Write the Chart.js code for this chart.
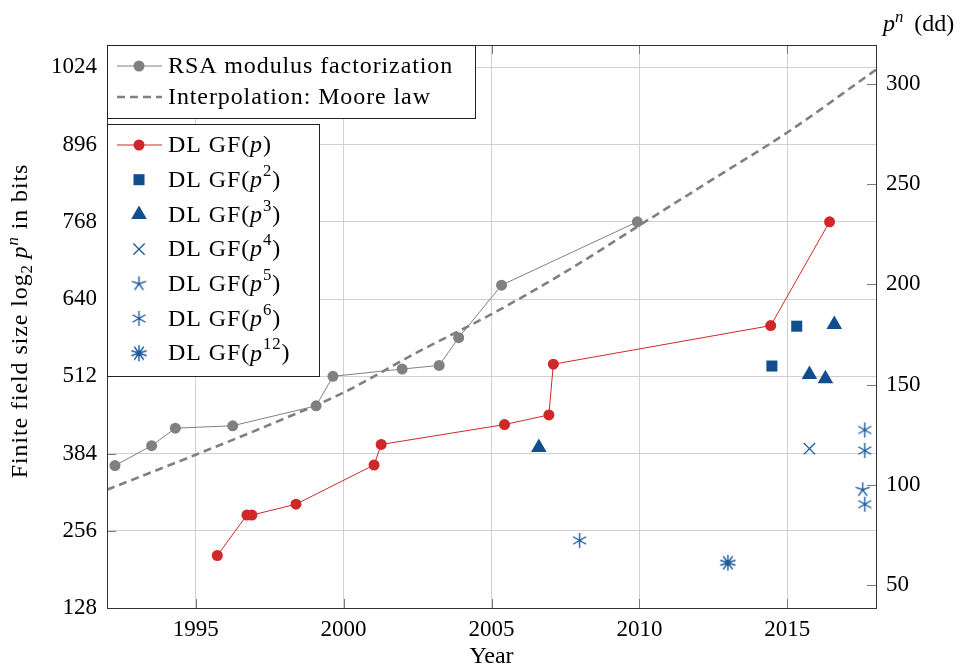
<!DOCTYPE html>
<html>
<head>
<meta charset="utf-8">
<script src="https://cdn.jsdelivr.net/npm/chart.js@4.4.0/dist/chart.umd.min.js"></script>
<style>
html,body{margin:0;padding:0;background:#fff}
</style>
</head>
<body>
<canvas id="fieldChart" width="963" height="666"></canvas>
<script>
// values (year, size in bits)
const rsaYears = [1992.27, 1993.51, 1994.31, 1996.25, 1999.07, 1999.64, 2001.98, 2003.23, 2003.89, 2005.34, 2009.93];
const rsaBits  = [364, 397, 426, 430, 463, 512, 524, 530, 576, 663, 768];

const mooreYears = [1992, 1995, 1998, 2000, 2002.5, 2005, 2007.5, 2010, 2012.5, 2015, 2018];
const mooreBits  = [324, 382, 442, 485, 552, 615, 685, 762, 839, 916, 1020];

const dlpYears = [1995.73, 1996.73, 1996.9, 1998.39, 2001.03, 2001.27, 2005.44, 2006.94, 2007.09, 2014.44, 2016.43];
const dlpBits  = [215, 282, 282, 300, 365, 399, 432, 448, 532, 596, 768];

const dlp2Years = [2014.48, 2015.32];
const dlp2Bits  = [529, 595];
const dlp3Years = [2006.6, 2015.75, 2016.29, 2016.59];
const dlp3Bits  = [394, 515, 508, 598];
const dlp4Years = [2015.75];
const dlp4Bits  = [392];
const dlp5Years = [2017.55];
const dlp5Bits  = [324];
const dlp6Years = [2007.98, 2017.62, 2017.62, 2017.62];
const dlp6Bits  = [240, 423, 389, 300];
const dlp12Years = [2012.99];
const dlp12Bits  = [203];

const xTicks  = [1995, 2000, 2005, 2010, 2015];
const yTicks  = [128, 256, 384, 512, 640, 768, 896, 1024];
const ddTicks = [50, 100, 150, 200, 250, 300];

const FONT = '"Liberation Serif", "DejaVu Serif", serif';
const FS = 23;
const LFS = 24;
const GRAY = '#808080';
const RED = '#d02828';
const BLUE = '#124e8c';
const BLUE2 = '#1f5a9e';
const LOG2 = Math.log10(2);
const yMin = 128, yMax = 1061;

function pts(xs, ys) {
  return xs.map((x, i) => ({x: x, y: ys[i]}));
}

// spoke markers for the star-like styles
function spokes(n, r, color, dot) {
  const s = Math.ceil(2 * r + 4);
  const c = document.createElement('canvas');
  c.width = s; c.height = s;
  const g = c.getContext('2d');
  g.strokeStyle = color;
  g.lineWidth = 1.4;
  g.beginPath();
  for (let i = 0; i < n; i++) {
    const a = -Math.PI / 2 + i * 2 * Math.PI / n;
    g.moveTo(s / 2, s / 2);
    g.lineTo(s / 2 + r * Math.cos(a), s / 2 + r * Math.sin(a));
  }
  g.stroke();
  if (dot) {
    g.fillStyle = color;
    g.beginPath();
    g.arc(s / 2, s / 2, dot, 0, Math.PI * 2);
    g.fill();
  }
  return c;
}
const star5 = spokes(5, 7.5, BLUE2, 0);
const aster6 = spokes(6, 7.5, BLUE2, 0);
const star10 = spokes(10, 8, BLUE2, 2.6);

Chart.defaults.font.family = FONT;
Chart.defaults.font.size = FS;
Chart.defaults.color = '#000';

function labelSegs(label) {
  const m = label.match(/^(.*\()p(?:\^(\d+))?\)$/);
  if (!m) return [{t: label}];
  const s = [{t: m[1]}, {t: 'p', it: 1}];
  if (m[2]) s.push({t: m[2], sup: 1});
  s.push({t: ')'});
  return s;
}

function segFont(sg, fs) {
  const size = (sg.sup || sg.sub) ? fs * 0.7 : fs;
  return (sg.it ? 'italic ' : '') + size + 'px ' + FONT;
}

function richWidth(ctx, segs, fs) {
  let w = 0;
  segs.forEach(sg => { ctx.font = segFont(sg, fs); w += ctx.measureText(sg.t).width; });
  return w;
}

function rich(ctx, x, y, segs, fs) {
  segs.forEach(sg => {
    ctx.font = segFont(sg, fs);
    let yy = y;
    if (sg.sup) yy = y - fs * 0.38;
    if (sg.sub) yy = y + fs * 0.22;
    ctx.fillText(sg.t, x, yy);
    x += ctx.measureText(sg.t).width;
  });
}

function drawLegend(ctx, chart, idx, x, y, w, h, step) {
  ctx.save();
  ctx.fillStyle = '#fff';
  ctx.fillRect(x, y, w, h);
  ctx.strokeStyle = '#222';
  ctx.lineWidth = 1;
  ctx.strokeRect(Math.round(x) + 0.5, Math.round(y) + 0.5, w, h);
  idx.forEach((di, k) => {
    const d = chart.data.datasets[di];
    const cy = y + 21 + k * step;
    const mx = x + 32;
    if (d.showLine) {
      ctx.save();
      ctx.strokeStyle = d.borderColor;
      ctx.lineWidth = d.borderWidth;
      ctx.setLineDash(d.borderDash || []);
      ctx.beginPath();
      ctx.moveTo(mx - 22, cy); ctx.lineTo(mx + 23, cy);
      ctx.stroke();
      ctx.restore();
    }
    if (d.pointRadius > 0) {
      ctx.save();
      ctx.fillStyle = d.backgroundColor;
      ctx.strokeStyle = d.borderColor;
      ctx.lineWidth = d.pointBorderWidth || 0;
      Chart.helpers.drawPoint(ctx, {
        pointStyle: d.pointStyle || 'circle',
        radius: d.pointRadius,
        borderWidth: d.pointBorderWidth || 0,
        rotation: 0
      }, mx, cy);
      ctx.restore();
    }
    ctx.fillStyle = '#000';
    ctx.textBaseline = 'middle';
    ctx.textAlign = 'left';
    ctx.letterSpacing = '0.9px';
    rich(ctx, x + 61, cy + 1, labelSegs(d.label), LFS);
    ctx.letterSpacing = '0px';
  });
  ctx.restore();
}

// frame, inside ticks, the two legend boxes and axis captions
const decor = {
  id: 'decor',
  afterDraw(chart) {
    const ctx = chart.ctx;
    const a = chart.chartArea;
    const sx = chart.scales.x, sy = chart.scales.y, s2 = chart.scales.y2;
    ctx.save();
    ctx.strokeStyle = '#7a7a7a';
    ctx.lineWidth = 1;
    ctx.beginPath();
    xTicks.forEach(v => {
      const px = Math.round(sx.getPixelForValue(v)) + 0.5;
      ctx.moveTo(px, a.bottom); ctx.lineTo(px, a.bottom - 9);
      ctx.moveTo(px, a.top); ctx.lineTo(px, a.top + 9);
    });
    yTicks.forEach(v => {
      const py = Math.round(sy.getPixelForValue(v)) + 0.5;
      ctx.moveTo(a.left, py); ctx.lineTo(a.left + 9, py);
    });
    ddTicks.forEach(v => {
      const py = Math.round(s2.getPixelForValue(v)) + 0.5;
      ctx.moveTo(a.right, py); ctx.lineTo(a.right - 9, py);
    });
    ctx.stroke();
    ctx.strokeStyle = '#333';
    ctx.strokeRect(Math.round(a.left) + 0.5, Math.round(a.top) + 0.5, Math.round(a.right - a.left), Math.round(a.bottom - a.top));

    drawLegend(ctx, chart, [0, 1], a.left, a.top, 368, 73, 31);
    drawLegend(ctx, chart, [2, 3, 4, 5, 6, 7, 8], a.left, a.top + 79, 212, 252, 34.7);

    ctx.fillStyle = '#000';
    ctx.textBaseline = 'alphabetic';
    ctx.textAlign = 'left';

    // left axis caption, rotated
    const ySegs = [{t: 'Finite field size log'}, {t: '2', sub: 1}, {t: '\u2009'}, {t: 'p', it: 1}, {t: 'n', it: 1, sup: 1}, {t: ' in bits'}];
    ctx.save();
    ctx.letterSpacing = '0.9px';
    ctx.translate(27, 321);
    ctx.rotate(-Math.PI / 2);
    const w = richWidth(ctx, ySegs, LFS);
    rich(ctx, -w / 2, 0, ySegs, LFS);
    ctx.restore();

    // right axis caption
    rich(ctx, 883, 31, [{t: 'p', it: 1}, {t: 'n', it: 1, sup: 1}, {t: '\u2009 (dd)'}], LFS);
    ctx.restore();
  }
};

new Chart(document.getElementById('fieldChart'), {
  type: 'scatter',
  data: {
    datasets: [
      {label: 'RSA modulus factorization', data: pts(rsaYears, rsaBits), showLine: true,
       borderColor: GRAY, borderWidth: 1, backgroundColor: GRAY, pointRadius: 5.5, pointBorderWidth: 0},
      {label: 'Interpolation: Moore law', data: pts(mooreYears, mooreBits), showLine: true,
       borderColor: GRAY, borderWidth: 2.6, borderDash: [8, 5], pointRadius: 0, cubicInterpolationMode: 'monotone'},
      {label: 'DL GF(p)', data: pts(dlpYears, dlpBits), showLine: true,
       borderColor: RED, borderWidth: 1, backgroundColor: RED, pointRadius: 5.5, pointBorderWidth: 0},
      {label: 'DL GF(p^2)', data: pts(dlp2Years, dlp2Bits), pointStyle: 'rect',
       backgroundColor: BLUE, borderColor: BLUE, pointRadius: 7.8, pointBorderWidth: 0},
      {label: 'DL GF(p^3)', data: pts(dlp3Years, dlp3Bits), pointStyle: 'triangle',
       backgroundColor: BLUE, borderColor: BLUE, pointRadius: 9, pointBorderWidth: 0},
      {label: 'DL GF(p^4)', data: pts(dlp4Years, dlp4Bits), pointStyle: 'crossRot',
       backgroundColor: BLUE2, borderColor: BLUE2, pointRadius: 8, pointBorderWidth: 1.3},
      {label: 'DL GF(p^5)', data: pts(dlp5Years, dlp5Bits), pointStyle: star5,
       backgroundColor: BLUE2, borderColor: BLUE2, pointRadius: 8, pointBorderWidth: 0},
      {label: 'DL GF(p^6)', data: pts(dlp6Years, dlp6Bits), pointStyle: aster6,
       backgroundColor: BLUE2, borderColor: BLUE2, pointRadius: 8, pointBorderWidth: 0},
      {label: 'DL GF(p^12)', data: pts(dlp12Years, dlp12Bits), pointStyle: star10,
       backgroundColor: BLUE2, borderColor: BLUE2, pointRadius: 8, pointBorderWidth: 0}
    ]
  },
  options: {
    responsive: false,
    devicePixelRatio: 1,
    animation: false,
    layout: {padding: {top: 45, left: 0, right: 0, bottom: 0}},
    plugins: {legend: {display: false}, tooltip: {enabled: false}},
    scales: {
      x: {
        type: 'linear', min: 1992, max: 2018,
        afterBuildTicks: s => { s.ticks = xTicks.map(v => ({value: v})); },
        afterFit: s => { s.height = 58; },
        ticks: {padding: 8, font: {size: FS}, callback: v => String(v)},
        grid: {color: '#d0d0d0', lineWidth: 1, drawTicks: false},
        border: {display: false},
        title: {display: true, text: 'Year', font: {size: LFS}, padding: {top: 0, bottom: -5}}
      },
      y: {
        type: 'linear', position: 'left', min: yMin, max: yMax,
        afterBuildTicks: s => { s.ticks = yTicks.map(v => ({value: v})); },
        afterFit: s => { s.width = 107; },
        ticks: {padding: 10, font: {size: FS}, callback: v => String(v)},
        grid: {color: '#d0d0d0', lineWidth: 1, drawTicks: false},
        border: {display: false}
      },
      y2: {
        type: 'linear', position: 'right', min: yMin * LOG2, max: yMax * LOG2,
        afterBuildTicks: s => { s.ticks = ddTicks.map(v => ({value: v})); },
        afterFit: s => { s.width = 87; },
        ticks: {padding: 10, font: {size: FS}, callback: v => String(v)},
        grid: {drawOnChartArea: false, drawTicks: false},
        border: {display: false}
      }
    }
  },
  plugins: [decor]
});
</script>
</body>
</html>
